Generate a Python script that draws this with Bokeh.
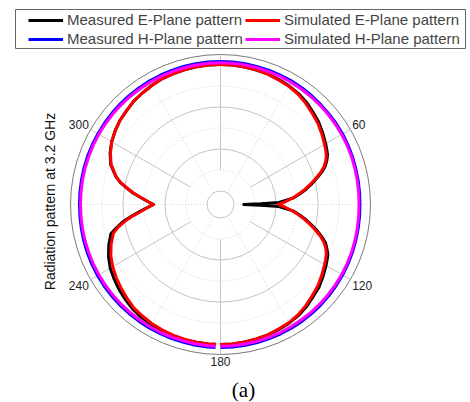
import numpy as np
from bokeh.plotting import figure
from bokeh.models import Range1d, Legend, LegendItem
from bokeh.embed import file_html
from bokeh.resources import INLINE
from bokeh.core.properties import value

# ---------------- data (angle in degrees clockwise from top, level in dB) ----------------
ANGLE_E = [0, 5, 10, 15, 20, 25, 30, 35, 40, 45, 50, 55, 60,
           62.5, 65, 67.5, 70, 72.5, 75, 77.5, 80, 82.5, 85,
           88, 89, 90, 91, 92,
           95, 97.5, 100, 102.5, 105, 107.5, 110, 112.5, 115, 117.5, 120,
           125, 130, 135, 140, 145, 150, 155, 160, 165, 170, 175, 180,
           182,
           185, 190, 195, 200, 205, 210, 215, 220, 225, 230, 235, 240, 245, 250, 255,
           257.5, 260, 262.5, 265,
           268, 269, 270, 271, 272,
           275, 277.5, 280, 282.5, 285,
           290, 295, 300, 305, 310, 315, 320, 325, 330, 335, 340, 345, 350, 355, 360]

MEAS_E = [0.1, 0.1, 0.0, -0.1, -0.2, -0.4, -0.6, -0.9, -1.4, -2.1, -2.7, -3.5, -4.3,
          -4.7, -5.1, -5.8, -6.7, -8.0, -9.6, -11.1, -12.6, -14.2, -15.9,
          -19.3, -23.6, -27.7, -23.6, -19.3,
          -15.9, -14.2, -12.6, -11.1, -9.5, -8.0, -6.6, -5.8, -5.0, -4.6, -4.2,
          -3.4, -2.6, -2.1, -1.4, -0.9, -0.6, -0.4, -0.2, -0.1, 0.0, 0.1, 0.1,
          0.1,
          0.1, 0.1, 0.1, 0.0, -0.1, -0.2, -0.4, -0.7, -1.2, -1.7, -2.3, -2.9, -3.8, -4.9, -6.2,
          -7.9, -9.6, -11.8, -13.9,
          -16.0, -16.7, -17.3, -16.7, -16.1,
          -14.1, -12.2, -10.5, -8.7, -7.4,
          -5.4, -4.2, -3.3, -2.6, -2.0, -1.6, -1.1, -0.8, -0.5, -0.2, -0.1, 0.0, 0.1, 0.1, 0.1]

SIM_E = [0.1, 0.1, 0.0, -0.1, -0.2, -0.5, -0.7, -1.1, -1.7, -2.4, -3.0, -3.8, -4.6,
         -5.0, -5.4, -6.1, -7.0, -8.3, -9.9, -11.4, -12.9, -14.5, -16.1,
         -18.1, -18.8, -19.4, -18.8, -18.1,
         -16.1, -14.5, -12.9, -11.4, -9.9, -8.3, -7.0, -6.1, -5.4, -5.0, -4.6,
         -3.8, -3.0, -2.4, -1.7, -1.1, -0.7, -0.5, -0.2, -0.1, 0.0, 0.1, 0.1,
         0.1,
         0.1, 0.1, 0.0, -0.1, -0.3, -0.5, -0.8, -1.1, -1.7, -2.3, -2.9, -3.6, -4.4, -5.5, -6.8,
         -8.2, -10.1, -12.1, -14.2,
         -16.1, -16.7, -17.3, -16.7, -16.1,
         -14.2, -12.3, -10.6, -8.8, -7.5,
         -5.5, -4.3, -3.3, -2.6, -2.0, -1.6, -1.1, -0.8, -0.5, -0.2, -0.1, 0.0, 0.1, 0.1, 0.1]

ANGLE_H = [0, 5, 10, 15, 20, 25, 30, 35, 40, 45, 50, 55, 60, 65, 70, 75, 80, 85, 90,
           95, 100, 105, 110, 115, 120, 125, 130, 135, 140, 145, 150, 155, 160, 165, 170, 175, 180,
           182,
           185, 190, 195, 200, 205, 210, 215, 220, 225, 230, 235, 240, 245, 250, 255, 260, 265, 270,
           275, 280, 285, 290, 295, 300, 305, 310, 315, 320, 325, 330, 335, 340, 345, 350, 355, 360]

MEAS_H = [0.83, 0.82, 0.8, 0.77, 0.74, 0.72, 0.71, 0.66, 0.58, 0.5, 0.43, 0.4, 0.36, 0.28, 0.2, 0.12, 0.06, 0.02, 0.0,
          0.02, 0.06, 0.12, 0.2, 0.28, 0.36, 0.42, 0.5, 0.58, 0.64, 0.69, 0.71, 0.74, 0.77, 0.8, 0.82, 0.83, 0.83,
          0.83,
          0.82, 0.8, 0.78, 0.76, 0.73, 0.71, 0.69, 0.67, 0.65, 0.63, 0.61, 0.6, 0.56, 0.52, 0.47, 0.42, 0.38, 0.36,
          0.38, 0.4, 0.43, 0.45, 0.47, 0.48, 0.52, 0.56, 0.6, 0.64, 0.68, 0.71, 0.74, 0.77, 0.79, 0.81, 0.82, 0.83]

SIM_H = [0.55, 0.55, 0.53, 0.5, 0.46, 0.43, 0.4, 0.36, 0.31, 0.26, 0.21, 0.16, 0.12, 0.06, 0.0, -0.08, -0.15, -0.2, -0.24,
         -0.2, -0.15, -0.08, 0.0, 0.06, 0.12, 0.16, 0.21, 0.26, 0.31, 0.36, 0.4, 0.43, 0.46, 0.5, 0.53, 0.55, 0.55,
         0.55,
         0.53, 0.5, 0.47, 0.45, 0.42, 0.4, 0.37, 0.34, 0.32, 0.29, 0.27, 0.24, 0.22, 0.19, 0.17, 0.15, 0.13, 0.12,
         0.13, 0.15, 0.17, 0.19, 0.22, 0.24, 0.27, 0.29, 0.32, 0.35, 0.37, 0.4, 0.43, 0.46, 0.49, 0.52, 0.54, 0.55]

ANGLE_TICKS = [60, 120, 180, 240, 300]
MAJOR_SPOKES = [0, 60, 120, 180, 240, 300]
MINOR_SPOKES = [30, 90, 150, 210, 270, 330]
RING_MAJOR_DB = [-30, -20, -10, 0]
RING_MINOR_DB = [-25, -15, -5]
R_MIN_DB, R_MAX_DB = -30.0, 2.5

LABELS = ["Measured E-Plane pattern", "Simulated E-Plane pattern",
          "Measured H-Plane pattern", "Simulated H-Plane pattern"]
YLABEL = "Radiation pattern at 3.2 GHz"
CAPTION = "(a)"

# ---------------- geometry (screen pixels) ----------------
HOLE = 13.5
OUTER = 150.0


def rad(db):
    db = np.asarray(db, dtype=float)
    return HOLE + (db - R_MIN_DB) / (R_MAX_DB - R_MIN_DB) * (OUTER - HOLE)


def polar(ang, db):
    a = np.radians(np.asarray(ang, dtype=float))
    r = rad(db)
    return r * np.sin(a), r * np.cos(a)


def segments(ang, db):
    ang = np.asarray(ang, dtype=float)
    x, y = polar(ang, db)
    m1 = ang <= 180
    m2 = ang > 180
    return [list(x[m1]), list(x[m2])], [list(y[m1]), list(y[m2])]


W, H = 470, 402
p = figure(width=W, height=H, x_range=Range1d(-220, 250), y_range=Range1d(-198, 204),
           output_backend="svg", toolbar_location=None, min_border=0,
           x_axis_type=None, y_axis_type=None)
p.grid.visible = False
p.outline_line_color = None
p.background_fill_color = "white"

# rings
p.circle(x=[0] * len(RING_MAJOR_DB), y=[0] * len(RING_MAJOR_DB), radius=list(rad(RING_MAJOR_DB)),
         fill_color=None, line_color="#c4c4c4", line_width=1)
p.circle(x=[0] * len(RING_MINOR_DB), y=[0] * len(RING_MINOR_DB), radius=list(rad(RING_MINOR_DB)),
         fill_color=None, line_color="#d4d4d4", line_width=1, line_dash="1 2")
p.circle(x=[0], y=[0], radius=[OUTER], fill_color=None, line_color="#7a7a7a", line_width=1)

# spokes
a_maj = np.radians(MAJOR_SPOKES)
r0 = rad(RING_MINOR_DB[0])
p.segment(x0=list(r0 * np.sin(a_maj)), y0=list(r0 * np.cos(a_maj)),
          x1=list(OUTER * np.sin(a_maj)), y1=list(OUTER * np.cos(a_maj)),
          line_color="#c4c4c4", line_width=1)
a_min = np.radians(MINOR_SPOKES)
p.segment(x0=list(HOLE * np.sin(a_min)), y0=list(HOLE * np.cos(a_min)),
          x1=list(OUTER * np.sin(a_min)), y1=list(OUTER * np.cos(a_min)),
          line_color="#d4d4d4", line_width=1, line_dash="1 2")

# curves
renderers = []
for ang, db, col in [(ANGLE_E, MEAS_E, "#000000"), (ANGLE_E, SIM_E, "#ff0000"),
                     (ANGLE_H, MEAS_H, "#0000ff"), (ANGLE_H, SIM_H, "#ff00ff")]:
    xs, ys = segments(ang, db)
    renderers.append(p.multi_line(xs=xs, ys=ys, line_color=col, line_width=3,
                                  line_join="round"))

# angle tick labels
for a in ANGLE_TICKS:
    t = np.radians(a)
    s, c = np.sin(t), np.cos(t)
    rl = OUTER + 2
    align = "left" if s > 0.1 else ("right" if s < -0.1 else "center")
    base = "bottom" if c > 0.1 else ("top" if c < -0.1 else "middle")
    p.text(x=[rl * s], y=[rl * c], text=[str(a)], text_font=value("Liberation Sans"),
           text_font_size=value("12px"), text_color="#222222", text_align=align, text_baseline=base)

# y label
p.text(x=[-171], y=[3], text=[YLABEL], angle=np.pi / 2, text_font=value("Liberation Sans"),
       text_font_size=value("14px"), text_color="#111111", text_align="center", text_baseline="middle")

# caption
p.text(x=[23], y=[-185], text=[CAPTION], text_font=value("Liberation Serif"),
       text_font_size=value("21px"), text_color="#000000", text_align="center", text_baseline="middle")

# legend frame
p.quad(left=[-205], right=[245], top=[195], bottom=[156], fill_color=None,
       line_color="#666666", line_width=1)

legend = Legend(items=[LegendItem(label=l, renderers=[r]) for l, r in zip(LABELS, renderers)],
                location=(25, 352), orientation="horizontal", ncols=2,
                label_text_font="Liberation Sans", label_text_font_size="15px",
                glyph_width=35, glyph_height=16, label_height=16, label_standoff=4,
                spacing=2, padding=3, margin=0,
                border_line_alpha=0, background_fill_alpha=0)
p.add_layout(legend, "center")

open("out.html", "w").write(file_html(p, INLINE))
